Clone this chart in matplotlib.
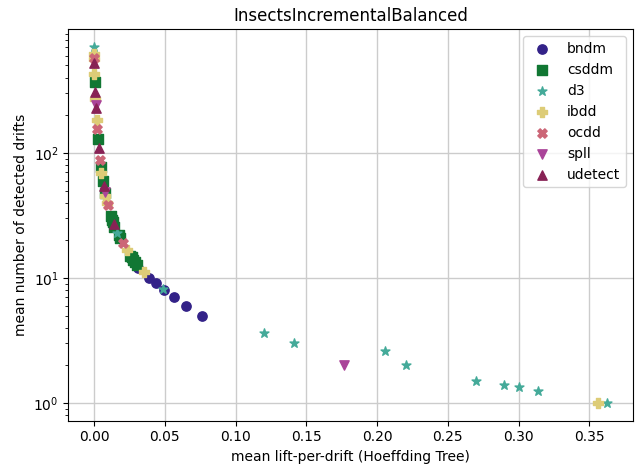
import matplotlib
matplotlib.use("Agg")
import matplotlib.pyplot as plt

# Paul Tol "muted" colours, one per detector
methods = ["bndm", "csddm", "d3", "ibdd", "ocdd", "spll", "udetect"]
colors = ["#332288", "#117733", "#44AA99", "#DDCC77", "#CC6677", "#AA4499", "#882255"]
markers = ["o", "s", "*", "P", "X", "v", "^"]

bndm_x = [0.0312, 0.0387, 0.0434, 0.0495, 0.0566, 0.065, 0.076]
bndm_y = [11.9, 10.0, 9.1, 8.0, 7.0, 6.0, 5.0]

csddm_x = [0.0005, 0.003, 0.0047, 0.0063, 0.0076, 0.012, 0.0125, 0.013, 0.014,
           0.0175, 0.0183, 0.0255, 0.0265, 0.0272, 0.0286, 0.030]
csddm_y = [370, 130, 77, 60, 48, 31, 29, 28, 25.5, 22, 21, 15, 14.7, 14, 13.4, 12.6]

d3_x = [0.0, 0.0165, 0.0484, 0.120, 0.141, 0.2055, 0.2206, 0.270, 0.290, 0.300,
        0.3138, 0.3627]
d3_y = [700, 22.9, 8.2, 3.6, 3.0, 2.6, 2.0, 1.5, 1.4, 1.33, 1.25, 1.0]

ibdd_x = [0.0, 0.0, 0.0, 0.0009, 0.0023, 0.0052, 0.0075, 0.0089, 0.023, 0.0352, 0.3564]
ibdd_y = [620, 560, 430, 272, 182, 69, 45, 40, 16.6, 11.2, 1.0]

ocdd_x = [0.0, 0.0019, 0.0042, 0.0101, 0.0202]
ocdd_y = [570, 154, 88, 38, 19]

spll_x = [0.001, 0.0077, 0.1768]
spll_y = [240, 49, 2.0]

udetect_x = [0.0, 0.0005, 0.0012, 0.0035, 0.007, 0.0141]
udetect_y = [519, 308, 230, 110, 54, 27]

xs = [bndm_x, csddm_x, d3_x, ibdd_x, ocdd_x, spll_x, udetect_x]
ys = [bndm_y, csddm_y, d3_y, ibdd_y, ocdd_y, spll_y, udetect_y]

fig, ax = plt.subplots(figsize=(6.4, 4.67), dpi=100)
fig.subplots_adjust(left=0.107, right=0.989, bottom=0.099, top=0.937)

for name, c, m, x, y in zip(methods, colors, markers, xs, ys):
    ax.scatter(x, y, color=c, marker=m, s=45, label=name, zorder=3)

ax.set_yscale("log")
ax.grid(True, color="#cccccc", linewidth=1)
ax.set_axisbelow(True)
ax.set_title("InsectsIncrementalBalanced")
ax.set_xlabel("mean lift-per-drift (Hoeffding Tree)")
ax.set_ylabel("mean number of detected drifts")
ax.legend(loc="upper right")

fig.savefig("out.png", dpi=100)
